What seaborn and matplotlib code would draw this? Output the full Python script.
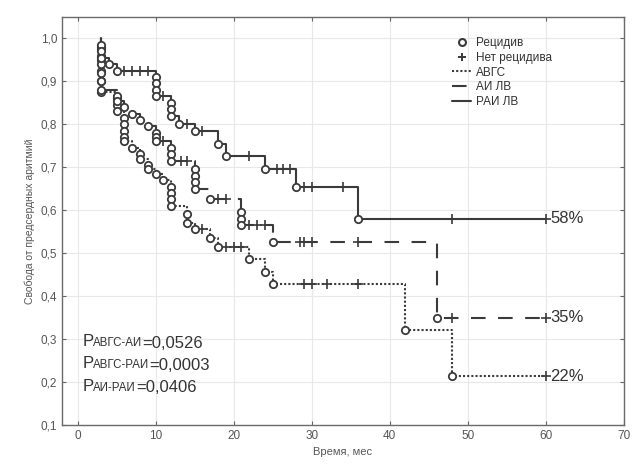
import numpy as np
import pandas as pd
import matplotlib
matplotlib.use("Agg")
import matplotlib.pyplot as plt
from matplotlib.lines import Line2D
import seaborn as sns

# event times (circles) and survival right after each event
avgs_t = [3, 3, 3, 3, 3, 5, 5, 5, 6, 6, 6, 6, 6, 7, 8, 8, 9, 9, 10, 11,
          12, 12, 12, 12, 14, 14, 15, 17, 18, 22, 24, 25, 42, 48]
avgs_s = [0.975, 0.95, 0.925, 0.90, 0.875, 0.86, 0.845, 0.83, 0.815, 0.80,
          0.785, 0.77, 0.76, 0.745, 0.73, 0.72, 0.705, 0.695, 0.685, 0.67,
          0.655, 0.64, 0.625, 0.61, 0.59, 0.57, 0.555, 0.535, 0.515, 0.487,
          0.455, 0.428, 0.32, 0.213]
avgs_cens = [16, 19, 20, 21, 29, 30, 32, 36, 60]

ai_t = [3, 3, 3, 3, 3, 3, 5, 5, 6, 7, 8, 9, 10, 10, 10, 12, 12, 12,
        15, 15, 15, 15, 17, 21, 21, 21, 25, 46]
ai_s = [0.98, 0.96, 0.94, 0.92, 0.90, 0.88, 0.865, 0.855, 0.84, 0.825,
        0.81, 0.795, 0.78, 0.77, 0.76, 0.745, 0.73, 0.715, 0.695, 0.68,
        0.665, 0.65, 0.625, 0.595, 0.58, 0.565, 0.525, 0.35]
ai_cens = [11, 13.3, 14, 18, 19, 22, 23, 24, 28.5, 29, 30, 36, 48, 60]

rai_t = [3, 3, 3, 4, 5, 10, 10, 10, 10, 12, 12, 12, 13, 15, 18, 19, 24, 28, 36]
rai_s = [0.985, 0.97, 0.955, 0.94, 0.925, 0.91, 0.895, 0.88, 0.865, 0.85,
         0.835, 0.82, 0.80, 0.785, 0.755, 0.725, 0.695, 0.655, 0.58]
rai_cens = [6, 7, 8, 9, 11, 14, 16, 22, 25.5, 26.3, 27.2, 29, 30, 34, 48, 60]

groups = ["АВГС", "АИ ЛВ", "РАИ ЛВ"]
end_labels = ["22%", "35%", "58%"]
y_ticks = [0.1, 0.2, 0.3, 0.4, 0.5, 0.6, 0.7, 0.8, 0.9, 1.0]
y_ticklabels = ["0,1", "0,2", "0,3", "0,4", "0,5", "0,6", "0,7", "0,8", "0,9", "1,0"]
x_ticks = [0, 10, 20, 30, 40, 50, 60, 70]
p_names = ["АВГС-АИ", "АВГС-РАИ", "АИ-РАИ"]
p_values = ["=0,0526", "=0,0003", "=0,0406"]

raw = {
    "АВГС": (avgs_t, avgs_s, avgs_cens),
    "АИ ЛВ": (ai_t, ai_s, ai_cens),
    "РАИ ЛВ": (rai_t, rai_s, rai_cens),
}

line_rows, ev_rows, cens_rows = [], [], []
for g in groups:
    t, s, ct = raw[g]
    pts = [(3, 1.0, 0)]
    for ti, si in zip(t, s):
        pts.append((ti, si, 0))
        ev_rows.append({"group": g, "t": ti, "s": si})
    for c in ct:
        lvl = min([si for ti, si in zip(t, s) if ti <= c] + [1.0])
        pts.append((c, lvl, 1))
        cens_rows.append({"group": g, "t": c, "s": lvl})
    pts.sort(key=lambda p: (p[0], -p[1]))
    for i, (ti, si, _) in enumerate(pts):
        line_rows.append({"group": g, "t": ti, "s": si, "i": i})

lines_df = pd.DataFrame(line_rows)
ev_df = pd.DataFrame(ev_rows)
cens_df = pd.DataFrame(cens_rows)

sns.set_style("whitegrid")
plt.rcParams["font.family"] = ["Liberation Sans", "DejaVu Sans"]

ink = "#3a3a3a"
fig = plt.figure(figsize=(6.32, 4.68), dpi=100)
ax = fig.add_axes([0.098, 0.092, 0.889, 0.872])

sns.lineplot(
    data=lines_df, x="t", y="s", hue="group", style="group",
    palette={g: ink for g in groups},
    dashes={"АВГС": (1, 1), "АИ ЛВ": (7, 6), "РАИ ЛВ": ""},
    estimator=None, sort=False, drawstyle="steps-post",
    lw=1.5, legend=False, ax=ax)

sns.scatterplot(data=cens_df, x="t", y="s", marker="+", color=ink,
                s=42, linewidth=1.2, legend=False, zorder=3, ax=ax)
sns.scatterplot(data=ev_df, x="t", y="s", marker="o", facecolor="white",
                edgecolor=ink, s=28, linewidth=1.3, legend=False, zorder=4, ax=ax)

# percent labels at the end of each curve
for g, lab in zip(groups, end_labels):
    sub = cens_df[cens_df["group"] == g]
    last = sub.iloc[-1]
    ax.annotate(lab, xy=(last["t"], last["s"]), xytext=(3, 0),
                textcoords="offset points", va="center", ha="left",
                fontsize=12, color="#333333")

# p-values, P with small subscript text
for k, (nm, pv) in enumerate(zip(p_names, p_values)):
    t1 = ax.text(0.6, 0.283 - k * 0.0515, "P", fontsize=12, color="#333333",
                 va="baseline", ha="left")
    t2 = ax.annotate(nm, xy=(1, 0), xycoords=t1, fontsize=8.3,
                     color="#333333", va="bottom", ha="left")
    ax.annotate(pv, xy=(1, 0), xycoords=t2, fontsize=12, color="#333333",
                va="bottom", ha="left", xytext=(0, -1.3),
                textcoords="offset points")

ax.set_xlim(-2, 70)
ax.set_ylim(0.1, 1.05)
ax.set_xticks(x_ticks)
ax.set_yticks(y_ticks)
ax.set_yticklabels(y_ticklabels)
ax.tick_params(direction="in", length=3, width=0.8, colors="#666666",
               labelcolor="#555555", labelsize=8.5, top=True, right=True,
               bottom=True, left=True)
ax.grid(True, color="#e8e8e8", lw=0.8)
for sp in ax.spines.values():
    sp.set_color("#6a6a6a")
    sp.set_linewidth(1.0)

ax.set_xlabel("Время, мес", fontsize=8, color="#555555", labelpad=4)
ax.set_ylabel("Свобода от предсердных аритмий", fontsize=7.5,
              color="#555555", labelpad=4)

handles = [
    Line2D([], [], ls="none", marker="o", mfc="white", mec=ink, ms=5, mew=1.5),
    Line2D([], [], ls="none", marker="+", color=ink, ms=6, mew=1.4),
    Line2D([], [], color=ink, lw=1.5, ls=(0, (1, 1))),
    Line2D([], [], color=ink, lw=1.5, ls=(0, (7, 6))),
    Line2D([], [], color=ink, lw=1.5),
]
ax.legend(handles, ["Рецидив", "Нет рецидива"] + groups,
          loc="upper left", bbox_to_anchor=(0.68, 0.97), frameon=False,
          fontsize=8.5, handlelength=1.6, handletextpad=0.4,
          labelspacing=0.22, borderpad=0.2, labelcolor="#333333")

fig.savefig("out.png", dpi=100)
